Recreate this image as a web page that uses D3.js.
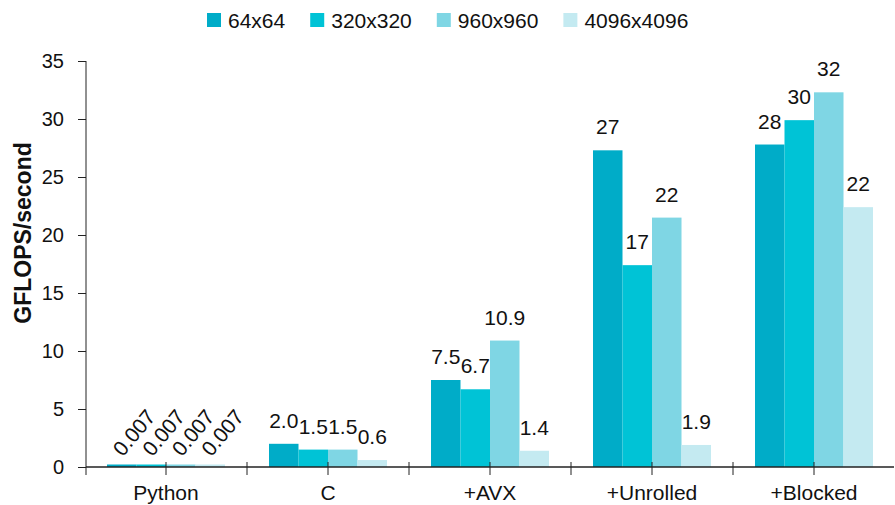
<!DOCTYPE html>
<html>
<head>
<meta charset="utf-8">
<script src="https://cdn.jsdelivr.net/npm/d3@7"></script>
<style>
  html, body { margin: 0; padding: 0; background: #fff; }
  svg { display: block; font-family: "Liberation Sans", Arial, Helvetica, sans-serif; }
</style>
</head>
<body>
<svg id="chart" width="895" height="505"></svg>
<script>
// ---- data ----
const categories = ["Python", "C", "+AVX", "+Unrolled", "+Blocked"];
const seriesNames = ["64x64", "320x320", "960x960", "4096x4096"];
const s64   = [0.007, 2.0, 7.5, 27.3, 27.8];
const s320  = [0.007, 1.5, 6.7, 17.4, 29.9];
const s960  = [0.007, 1.5, 10.9, 21.5, 32.3];
const s4096 = [0.007, 0.6, 1.4, 1.9, 22.4];
const l64   = ["0.007", "2.0", "7.5", "27", "28"];
const l320  = ["0.007", "1.5", "6.7", "17", "30"];
const l960  = ["0.007", "1.5", "10.9", "22", "32"];
const l4096 = ["0.007", "0.6", "1.4", "1.9", "22"];
const yTicks = [0, 5, 10, 15, 20, 25, 30, 35];
const yTitle = "GFLOPS/second";
const colors = ["#00acc8", "#00c3d6", "#7fd6e4", "#c4eaf1"];

const seriesValues = [s64, s320, s960, s4096];
const seriesLabels = [l64, l320, l960, l4096];

// ---- layout ----
const svg = d3.select("#chart");
const pLeft = 86, pRight = 895, pTop = 61, pBottom = 467;

const x0 = d3.scaleBand().domain(categories).range([pLeft - 1, pRight]).padding(0);
const x1 = d3.scaleBand().domain(seriesNames).range([22, x0.bandwidth() - 22]).padding(0);
const y = d3.scaleLinear().domain([0, 35]).range([pBottom, pTop]);
const color = d3.scaleOrdinal().domain(seriesNames).range(colors);

const rows = [];
categories.forEach((c, i) => {
  seriesNames.forEach((s, j) => {
    rows.push({ cat: c, ser: s, v: seriesValues[j][i], label: seriesLabels[j][i] });
  });
});

// bars
const minH = 2.5;
svg.append("g").selectAll("rect").data(rows).join("rect")
  .attr("x", d => x0(d.cat) + x1(d.ser))
  .attr("width", x1.bandwidth())
  .attr("y", d => Math.min(y(d.v), pBottom - minH))
  .attr("height", d => Math.max(pBottom - y(d.v), minH))
  .attr("fill", d => color(d.ser));

// value labels
const lab = svg.append("g").attr("font-size", 21).attr("fill", "#111");
rows.forEach(d => {
  const cx = x0(d.cat) + x1(d.ser) + x1.bandwidth() / 2;
  const ty = Math.min(y(d.v), pBottom - minH);
  if (d.v < 0.1) {
    lab.append("text")
      .attr("transform", `translate(${cx + 1},${ty - 7}) rotate(-50)`)
      .attr("text-anchor", "start")
      .text(d.label);
  } else {
    lab.append("text")
      .attr("x", cx).attr("y", ty - 16)
      .attr("text-anchor", "middle")
      .text(d.label);
  }
});

// y axis
const yAxis = svg.append("g")
  .attr("transform", `translate(${pLeft},0)`)
  .call(d3.axisLeft(y).tickValues(yTicks).tickSize(8).tickSizeOuter(0).tickPadding(14));
yAxis.select(".domain").remove();
yAxis.append("line").attr("x1", 0).attr("x2", 0).attr("y1", pTop).attr("y2", pBottom + 8)
  .attr("stroke", "#222");
yAxis.selectAll(".tick line").attr("stroke", "#222");
yAxis.selectAll(".tick text").attr("font-size", 20).attr("fill", "#111")
  .attr("font-family", "Liberation Sans, Arial, sans-serif");

// x axis
const xAxis = svg.append("g")
  .attr("transform", `translate(0,${pBottom})`)
  .call(d3.axisBottom(x0).tickSize(8).tickSizeOuter(0).tickPadding(10));
xAxis.select(".domain").remove();
xAxis.append("line").attr("x1", pLeft).attr("x2", pRight - 1).attr("y1", 0).attr("y2", 0)
  .attr("stroke", "#222").attr("stroke-width", 1.5);
xAxis.selectAll(".tick line").attr("y1", -5).attr("y2", 8).attr("stroke", "#222");
xAxis.selectAll(".tick text").attr("font-size", 21).attr("fill", "#111")
  .attr("font-family", "Liberation Sans, Arial, sans-serif");
// boundary ticks
xAxis.append("g").selectAll("line").data(categories.slice(1)).join("line")
  .attr("x1", d => x0(d)).attr("x2", d => x0(d))
  .attr("y1", -5).attr("y2", 8).attr("stroke", "#222");

// y title
svg.append("text")
  .attr("transform", `translate(31,${(137 + 329) / 2}) rotate(-90)`)
  .attr("text-anchor", "middle")
  .attr("font-weight", "bold")
  .attr("font-size", 23)
  .attr("fill", "#111")
  .text(yTitle);

// legend
const legend = svg.append("g").attr("font-size", 21).attr("fill", "#111");
let lx = 207;
seriesNames.forEach((s, i) => {
  legend.append("rect").attr("x", lx).attr("y", 13).attr("width", 14).attr("height", 14)
    .attr("fill", color(s));
  const t = legend.append("text").attr("x", lx + 21).attr("y", 27.5).text(s);
  lx += 21 + t.node().getComputedTextLength() + 25;
});
</script>
</body>
</html>
